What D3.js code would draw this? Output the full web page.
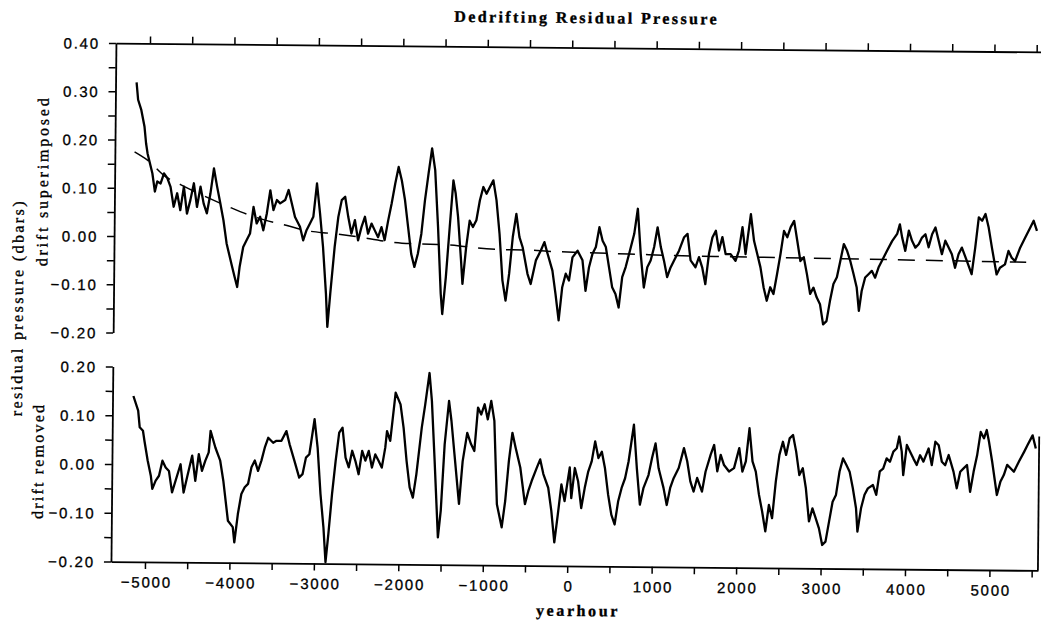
<!DOCTYPE html>
<html><head><meta charset="utf-8">
<script src="https://cdn.jsdelivr.net/npm/d3@7"></script>
<style>body{margin:0;background:#fff}svg{display:block}</style>
</head><body>
<svg id="c" width="1041" height="622"></svg>
<script>
// ---- data (yearhour, residual pressure in dbars) ----
const titleText = "Dedrifting Residual Pressure";
const xTitle = "yearhour";
const yTitle = "residual pressure (dbars)";
const topPanelLabel = "drift superimposed";
const bottomPanelLabel = "drift removed";

const xTickValues = [-5000,-4500,-4000,-3500,-3000,-2500,-2000,-1500,-1000,-500,0,500,1000,1500,2000,2500,3000,3500,4000,4500,5000,5500];
const xLabelValues = [-5000,-4000,-3000,-2000,-1000,0,1000,2000,3000,4000,5000];
const xLabelTexts = ["\u22125000","\u22124000","\u22123000","\u22122000","\u22121000","0","1000","2000","3000","4000","5000"];

const topYTickValues = [-0.2,-0.15,-0.1,-0.05,0,0.05,0.1,0.15,0.2,0.25,0.3,0.35,0.4];
const topYLabelValues = [-0.2,-0.1,0,0.1,0.2,0.3,0.4];
const topYLabelTexts = ["\u22120.20","\u22120.10","0.00","0.10","0.20","0.30","0.40"];
const botYTickValues = [-0.2,-0.15,-0.1,-0.05,0,0.05,0.1,0.15,0.2];
const botYLabelValues = [-0.2,-0.1,0,0.1,0.2];
const botYLabelTexts = ["\u22120.20","\u22120.10","0.00","0.10","0.20"];

const driftSuperimposed = [[-5154,0.319],[-5134,0.283],[-5095,0.262],[-5055,0.227],[-5035,0.193],[-5016,0.172],[-4996,0.158],[-4957,0.131],[-4925,0.093],[-4898,0.114],[-4858,0.110],[-4819,0.131],[-4779,0.121],[-4740,0.103],[-4701,0.062],[-4661,0.090],[-4622,0.055],[-4582,0.104],[-4543,0.048],[-4504,0.076],[-4464,0.111],[-4425,0.062],[-4385,0.104],[-4346,0.069],[-4307,0.049],[-4267,0.090],[-4228,0.142],[-4188,0.104],[-4149,0.070],[-4110,0.035],[-4070,-0.013],[-4011,-0.055],[-3972,-0.082],[-3940,-0.103],[-3913,-0.061],[-3873,-0.020],[-3834,-0.006],[-3794,0.008],[-3755,0.063],[-3716,0.029],[-3676,0.043],[-3637,0.015],[-3597,0.050],[-3558,0.098],[-3519,0.057],[-3479,0.078],[-3440,0.071],[-3381,0.078],[-3341,0.099],[-3302,0.071],[-3263,0.043],[-3203,0.023],[-3164,-0.005],[-3125,0.016],[-3085,0.030],[-3046,0.044],[-3006,0.113],[-2967,0.051],[-2928,-0.018],[-2888,-0.115],[-2868,-0.184],[-2837,-0.115],[-2790,-0.018],[-2750,0.044],[-2711,0.079],[-2671,0.086],[-2632,0.044],[-2593,0.010],[-2553,0.038],[-2514,-0.004],[-2474,0.024],[-2435,0.045],[-2396,0.010],[-2356,0.031],[-2317,0.017],[-2277,0.003],[-2238,0.024],[-2199,-0.003],[-2159,0.038],[-2120,0.073],[-2080,0.114],[-2041,0.149],[-2002,0.121],[-1962,0.080],[-1923,0.025],[-1883,-0.031],[-1844,-0.058],[-1805,-0.031],[-1765,0.011],[-1726,0.080],[-1686,0.136],[-1647,0.188],[-1608,0.143],[-1568,0.025],[-1529,-0.113],[-1509,-0.155],[-1470,-0.078],[-1430,0.025],[-1391,0.122],[-1363,0.095],[-1332,0.046],[-1292,-0.044],[-1273,-0.092],[-1233,-0.016],[-1194,0.039],[-1155,0.026],[-1115,0.040],[-1076,0.081],[-1036,0.109],[-997,0.095],[-958,0.109],[-918,0.123],[-879,0.082],[-839,0.012],[-800,-0.084],[-761,-0.126],[-721,-0.070],[-682,0.006],[-642,0.054],[-603,0.006],[-564,-0.015],[-504,-0.070],[-465,-0.091],[-406,-0.042],[-347,-0.021],[-307,-0.004],[-268,-0.028],[-209,-0.063],[-170,-0.111],[-130,-0.166],[-91,-0.097],[-51,-0.069],[-12,-0.083],[27,-0.035],[87,-0.021],[146,-0.041],
[185,-0.104],[224,-0.055],[264,-0.027],[303,-0.013],[343,0.028],[382,0.000],[421,-0.013],[461,-0.055],[500,-0.096],[540,-0.110],[579,-0.138],[618,-0.075],[658,-0.054],[697,-0.027],[756,0.015],[796,0.067],[835,-0.027],[875,-0.096],[914,-0.054],[953,-0.040],[993,-0.012],[1032,0.029],[1072,-0.012],[1111,-0.040],[1150,-0.074],[1190,-0.054],[1229,-0.040],[1288,-0.019],[1347,0.009],[1387,0.016],[1426,-0.039],[1485,-0.053],[1525,-0.032],[1564,-0.053],[1603,-0.088],[1643,-0.025],[1682,0.009],[1722,0.023],[1761,-0.018],[1800,0.010],[1840,-0.025],[1899,-0.025],[1958,-0.039],[1997,-0.018],[2037,0.031],[2076,-0.025],[2135,0.058],[2175,0.003],[2214,-0.024],[2254,-0.052],[2293,-0.093],[2332,-0.121],[2372,-0.093],[2411,-0.107],[2451,-0.066],[2490,-0.024],[2529,0.024],[2569,0.011],[2608,0.032],[2648,0.045],[2687,0.004],[2726,-0.038],[2766,-0.030],[2805,-0.065],[2845,-0.106],[2884,-0.093],[2923,-0.113],[2963,-0.127],[3002,-0.169],[3042,-0.162],[3081,-0.120],[3120,-0.085],[3160,-0.071],[3199,-0.037],[3239,-0.002],[3278,-0.016],[3317,-0.037],[3357,-0.064],[3396,-0.092],[3424,-0.140],[3455,-0.099],[3495,-0.071],[3534,-0.064],[3573,-0.057],[3613,-0.071],[3652,-0.050],[3692,-0.036],[3751,-0.015],[3810,0.005],[3869,0.020],[3900,0.040],[3928,0.013],[3967,-0.015],[4007,0.027],[4046,0.006],[4086,-0.008],[4125,-0.001],[4164,0.013],[4204,0.020],[4243,-0.007],[4283,0.020],[4322,0.034],[4361,0.007],[4401,-0.021],[4440,0.007],[4480,-0.007],[4519,-0.021],[4558,-0.049],[4598,-0.021],[4637,-0.007],[4696,-0.034],[4755,-0.062],[4795,-0.007],[4834,0.056],[4874,0.049],[4913,0.063],[4952,0.035],[4992,-0.006],[5051,-0.062],[5090,-0.048],[5149,-0.041],[5189,-0.013],[5228,-0.027],[5268,-0.034],[5327,-0.006],[5386,0.015],[5445,0.036],[5484,0.050],[5524,0.029]];

const driftCurve = [[-5170,0.175],[-5016,0.158],[-4800,0.124],[-4622,0.108],[-4050,0.063],[-3834,0.048],[-3617,0.036],[-3420,0.028],[-3085,0.014],[-2849,0.010],[-2632,0.006],[-1994,-0.009],[-1765,-0.010],[-1568,-0.011],[-1332,-0.013],[-1135,-0.017],[-859,-0.020],[-446,-0.021],[-268,-0.023],[-31,-0.024],[461,-0.026],[697,-0.027],[1200,-0.029],[2273,-0.031],[3510,-0.033],[4755,-0.035],[5400,-0.036]];

const driftRemoved = [[-5156,0.140],[-5098,0.110],[-5078,0.076],[-5039,0.069],[-5020,0.048],[-4980,0.008],[-4941,-0.023],[-4922,-0.050],[-4883,-0.033],[-4844,-0.023],[-4805,0.008],[-4766,-0.006],[-4727,-0.013],[-4688,-0.057],[-4590,0.001],[-4551,-0.057],[-4512,-0.026],[-4453,0.019],[-4414,-0.033],[-4375,0.022],[-4336,-0.012],[-4297,0.009],[-4258,0.026],[-4238,0.070],[-4180,0.036],[-4121,0.009],[-4082,-0.032],[-4023,-0.114],[-3965,-0.127],[-3945,-0.158],[-3906,-0.100],[-3867,-0.059],[-3828,-0.045],[-3789,-0.038],[-3750,-0.004],[-3711,0.010],[-3672,-0.011],[-3633,0.010],[-3594,0.037],[-3555,0.057],[-3496,0.047],[-3457,0.051],[-3398,0.051],[-3340,0.071],[-3301,0.044],[-3242,0.010],[-3184,-0.024],[-3145,-0.017],[-3106,0.017],[-3066,0.024],[-3008,0.096],[-2969,0.038],[-2930,-0.057],[-2891,-0.126],[-2863,-0.197],[-2832,-0.139],[-2793,-0.057],[-2754,0.011],[-2715,0.069],[-2676,0.079],[-2637,0.018],[-2598,-0.002],[-2559,0.032],[-2520,0.011],[-2481,-0.016],[-2441,0.032],[-2402,0.012],[-2363,0.032],[-2324,-0.002],[-2285,0.025],[-2246,0.012],[-2207,-0.002],[-2168,0.039],[-2149,0.073],[-2110,0.053],[-2051,0.152],[-1992,0.128],[-1953,0.080],[-1914,0.012],[-1875,-0.042],[-1836,-0.063],[-1797,-0.015],[-1738,0.081],[-1699,0.129],[-1652,0.193],[-1621,0.136],[-1582,0.013],[-1535,-0.144],[-1504,-0.089],[-1465,0.047],[-1418,0.136],[-1387,0.095],[-1348,0.027],[-1289,-0.075],[-1250,0.013],[-1199,0.071],[-1153,0.048],[-1113,0.034],[-1074,0.123],[-1035,0.109],[-996,0.130],[-957,0.099],[-918,0.137],[-879,0.096],[-840,-0.075],[-781,-0.122],[-742,-0.068],[-703,0.014],[-664,0.072],[-625,0.042],[-567,0.001],[-508,-0.074],[-469,-0.047],[-430,-0.026],[-371,0.001],[-332,0.018],[-293,-0.012],[-234,-0.040],[-195,-0.087],[-156,-0.152],[-117,-0.094],[-78,-0.033],[-39,-0.067],[19,0.002],
[40,-0.061],[79,0.001],[119,-0.026],[159,-0.081],[198,-0.040],[238,-0.006],[278,0.015],[317,0.056],[357,0.022],[397,0.035],[436,0.001],[476,-0.053],[516,-0.094],[556,-0.114],[595,-0.067],[635,-0.039],[675,-0.019],[714,0.015],[774,0.091],[813,0.002],[853,-0.073],[893,-0.039],[952,-0.012],[992,0.023],[1032,0.053],[1071,0.002],[1131,-0.038],[1171,-0.073],[1210,-0.038],[1250,-0.018],[1309,0.003],[1369,0.044],[1409,0.017],[1448,-0.024],[1488,-0.045],[1528,-0.017],[1587,-0.045],[1627,-0.004],[1686,0.031],[1726,0.051],[1766,-0.003],[1805,0.031],[1845,0.010],[1905,-0.003],[1964,0.004],[2024,0.045],[2063,-0.003],[2103,0.018],[2143,0.086],[2182,0.018],[2222,-0.003],[2262,-0.050],[2301,-0.084],[2341,-0.125],[2381,-0.071],[2420,-0.098],[2460,-0.023],[2500,0.032],[2540,0.059],[2579,0.032],[2619,0.066],[2659,0.073],[2698,0.039],[2738,-0.009],[2778,0.005],[2817,-0.036],[2857,-0.104],[2897,-0.077],[2936,-0.097],[2976,-0.118],[3016,-0.152],[3055,-0.145],[3095,-0.104],[3135,-0.063],[3174,-0.049],[3214,-0.001],[3254,0.026],[3293,0.013],[3333,-0.001],[3373,-0.035],[3413,-0.076],[3432,-0.124],[3472,-0.076],[3512,-0.048],[3551,-0.035],[3611,-0.028],[3651,-0.048],[3690,0.000],[3730,0.006],[3770,0.027],[3809,0.020],[3849,0.041],[3889,0.048],[3917,0.072],[3948,0.041],[3968,-0.007],[4008,0.055],[4047,0.041],[4087,0.027],[4127,0.014],[4166,0.034],[4206,0.021],[4266,0.048],[4305,0.014],[4345,0.062],[4385,0.055],[4424,0.021],[4464,0.014],[4504,0.035],[4563,0.001],[4603,-0.033],[4643,0.001],[4682,0.008],[4722,0.015],[4762,-0.040],[4801,0.001],[4841,0.035],[4881,0.083],[4920,0.070],[4952,0.087],[4980,0.063],[5020,0.022],[5079,-0.046],[5119,-0.019],[5159,-0.005],[5198,0.016],[5238,0.009],[5278,0.002],[5337,0.023],[5397,0.043],[5437,0.057],[5496,0.077],[5535,0.050]];

// ---- layout ----
const svg = d3.select("#c");
const g = svg.append("g").attr("transform", "rotate(0.55,575,300)");

const x = d3.scaleLinear().domain([-5403, 5574]).range([113.5, 1040.5]);
const yTop = d3.scaleLinear().domain([-0.2, 0.4]).range([337, 47.5]);
const yBot = d3.scaleLinear().domain([-0.2, 0.2]).range([566, 371]);

const tickFont = "'Liberation Sans', Arial, sans-serif";
const serif = "'Liberation Serif', 'DejaVu Serif', serif";

function labelFmt(values, texts) {
  return d => { const i = values.findIndex(v => Math.abs(v - d) < 1e-9); return i >= 0 ? texts[i] : ""; };
}
function styleAxis(sel) {
  sel.selectAll("path.domain").attr("stroke", "#000").attr("stroke-width", 1.8);
  sel.selectAll(".tick line").attr("stroke", "#000").attr("stroke-width", 1.5);
  sel.selectAll(".tick text").attr("fill", "#000").attr("font-family", tickFont)
     .attr("font-size", 15).attr("letter-spacing", "1.8px")
     .attr("stroke", "#000").attr("stroke-width", 0.3);
}

// top panel axes
g.append("g").attr("transform", `translate(${x.range()[0]},0)`)
  .call(d3.axisLeft(yTop).tickValues(topYTickValues).tickSize(7).tickSizeOuter(0).tickPadding(9)
        .tickFormat(labelFmt(topYLabelValues, topYLabelTexts)))
  .call(styleAxis).call(s => s.selectAll(".tick text").attr("dy", "0.36em"));
g.append("g").attr("transform", `translate(0,${yTop(0.4)})`)
  .call(d3.axisTop(x).tickValues(xTickValues).tickSize(7).tickSizeOuter(0).tickFormat(""))
  .call(styleAxis);

// bottom panel axes
g.append("g").attr("transform", `translate(${x.range()[0]},0)`)
  .call(d3.axisLeft(yBot).tickValues(botYTickValues).tickSize(7).tickSizeOuter(0).tickPadding(9)
        .tickFormat(labelFmt(botYLabelValues, botYLabelTexts)))
  .call(styleAxis).call(s => s.selectAll(".tick text").attr("dy", "0.36em"));
g.append("g").attr("transform", `translate(0,${yBot(-0.2)})`)
  .call(d3.axisBottom(x).tickValues(xTickValues).tickSize(7).tickSizeOuter(0).tickPadding(8)
        .tickFormat(labelFmt(xLabelValues, xLabelTexts)))
  .call(styleAxis).call(s => s.selectAll(".tick text").attr("dx", "1px"));
g.append("line")
  .attr("x1", x.range()[1]).attr("x2", x.range()[1])
  .attr("y1", yBot(0.075)).attr("y2", yBot(-0.2))
  .attr("stroke", "#000").attr("stroke-width", 1.8);

// series
const lineTop = d3.line().x(d => x(d[0])).y(d => yTop(d[1]));
const lineBot = d3.line().x(d => x(d[0])).y(d => yBot(d[1]));
const lineDrift = d3.line().x(d => x(d[0])).y(d => yTop(d[1])).curve(d3.curveMonotoneX);

g.append("path").datum(driftCurve).attr("d", lineDrift)
  .attr("fill", "none").attr("stroke", "#000").attr("stroke-width", 1.5)
  .attr("stroke-dasharray", "17,11");
g.append("path").datum(driftSuperimposed).attr("d", lineTop)
  .attr("fill", "none").attr("stroke", "#000").attr("stroke-width", 2.3).attr("stroke-linejoin", "round");
g.append("path").datum(driftRemoved).attr("d", lineBot)
  .attr("fill", "none").attr("stroke", "#000").attr("stroke-width", 2.3).attr("stroke-linejoin", "round");

// titles
const textHeavy = sel => sel.attr("fill", "#000").attr("stroke", "#000").attr("stroke-width", 0.35);
g.append("text").attr("x", 584).attr("y", 23).attr("text-anchor", "middle")
  .attr("font-family", serif).attr("font-weight", "bold").attr("font-size", 16)
  .attr("letter-spacing", "2.4px").call(textHeavy).text(titleText);
g.append("text").attr("x", 581).attr("y", 616).attr("text-anchor", "middle")
  .attr("font-family", serif).attr("font-weight", "bold").attr("font-size", 16)
  .attr("letter-spacing", "2.6px").call(textHeavy).text(xTitle);
g.append("text").attr("transform", "translate(23,313) rotate(-90)").attr("text-anchor", "middle")
  .attr("font-family", serif).attr("font-size", 16).attr("letter-spacing", "2.4px").call(textHeavy).text(yTitle);
g.append("text").attr("transform", "translate(47,186) rotate(-90)").attr("text-anchor", "middle")
  .attr("font-family", serif).attr("font-size", 16).attr("letter-spacing", "2.8px").call(textHeavy).text(topPanelLabel);
g.append("text").attr("transform", "translate(45,466) rotate(-90)").attr("text-anchor", "middle")
  .attr("font-family", serif).attr("font-size", 16).attr("letter-spacing", "2.2px").call(textHeavy).text(bottomPanelLabel);
</script>
</body></html>
